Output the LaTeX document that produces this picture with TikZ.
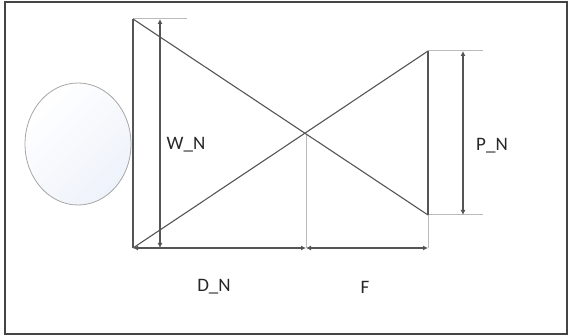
\documentclass[tikz,border=0pt]{standalone}
\usepackage{fontspec}
\setmainfont{Carlito}
\usetikzlibrary{arrows.meta,shapes.geometric}
\definecolor{linec}{HTML}{555555}
\definecolor{extc}{HTML}{BBBBBB}
\definecolor{framec}{HTML}{444444}
\definecolor{ballc}{HTML}{EEF2FA}
\begin{document}
\begin{tikzpicture}[x=1pt,y=-1pt,
  mainline/.style={draw=linec,line width=1.1pt},
  extline/.style={draw=extc,line width=1pt},
  dimarrow/.style={draw=linec,line width=1.1pt,{Latex[length=5pt,width=5pt]}-{Latex[length=5pt,width=5pt]}},
  lbl/.style={font=\fontsize{19}{20}\selectfont,text=black!85,inner sep=0pt}]
\useasboundingbox (0,0) rectangle (569,336);
\draw[framec,line width=1.6pt] (5,2) rectangle (567,334);
% ball
\node[ellipse,draw=gray!70,line width=0.8pt,minimum width=106pt,minimum height=122pt,inner sep=0pt,
  top color=white,bottom color=ballc,shading angle=45] (ball) at (78,144) {};
% points
\coordinate (TL) at (133,19);
\coordinate (BL) at (133,248);
\coordinate (TR) at (428,51);
\coordinate (BR) at (428,215);
\coordinate (X) at (306,134);
\coordinate (XB) at (306,248);
\coordinate (RB) at (428,248);
\coordinate (TT) at (187,19);
\coordinate (WT) at (160,19);
\coordinate (WB) at (160,248);
\coordinate (PT) at (463,51);
\coordinate (PB) at (463,215);
\coordinate (PTT) at (483,51);
\coordinate (PBT) at (483,215);
% extension lines
\draw[extline] (TL) -- (TT);
\draw[extline] (TR) -- (PTT);
\draw[extline] (BR) -- (PBT);
\draw[extline] (X) -- (XB);
\draw[extline] (BR) -- (RB);
% main lines
\draw[mainline] (TL) -- (BL);
\draw[mainline] (TR) -- (BR);
\draw[mainline] (TL) -- (BR);
\draw[mainline] (BL) -- (TR);
% dimensions
\draw[dimarrow] (WT) -- (WB);
\draw[dimarrow] (PT) -- (PB);
\draw[dimarrow] (BL) -- (XB);
\draw[dimarrow] (XB) -- (RB);
% labels
\node[lbl] (wn) at (186,145) {W\_N};
\node[lbl] (pn) at (492,146) {P\_N};
\node[lbl] (dn) at (214,287) {D\_N};
\node[lbl] (f) at (365,287) {F};
\end{tikzpicture}
\end{document}
